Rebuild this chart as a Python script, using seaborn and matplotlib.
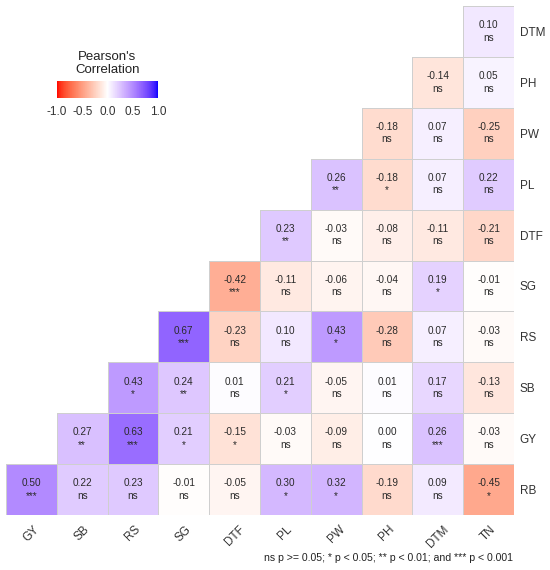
import numpy as np
import pandas as pd
import seaborn as sns
import matplotlib
matplotlib.use("Agg")
import matplotlib.pyplot as plt
from matplotlib.colors import ListedColormap

cols = ["GY", "SB", "RS", "SG", "DTF", "PL", "PW", "PH", "DTM", "TN"]
rows = ["DTM", "PH", "PW", "PL", "DTF", "SG", "RS", "SB", "GY", "RB"]

# filled part of each row, read from the right-hand end of the triangle
r_DTM = [0.10]
r_PH = [-0.14, 0.05]
r_PW = [-0.18, 0.07, -0.25]
r_PL = [0.26, -0.18, 0.07, 0.22]
r_DTF = [0.23, -0.03, -0.08, -0.11, -0.21]
r_SG = [-0.42, -0.11, -0.06, -0.04, 0.19, -0.01]
r_RS = [0.67, -0.23, 0.10, 0.43, -0.28, 0.07, -0.03]
r_SB = [0.43, 0.24, 0.01, 0.21, -0.05, 0.01, 0.17, -0.13]
r_GY = [0.27, 0.63, 0.21, -0.15, -0.03, -0.09, 0.00, 0.26, -0.03]
r_RB = [0.50, 0.22, 0.23, -0.01, -0.05, 0.30, 0.32, -0.19, 0.09, -0.45]

s_DTM = ["ns"]
s_PH = ["ns", "ns"]
s_PW = ["ns", "ns", "ns"]
s_PL = ["**", "*", "ns", "ns"]
s_DTF = ["**", "ns", "ns", "ns", "ns"]
s_SG = ["***", "ns", "ns", "ns", "*", "ns"]
s_RS = ["***", "ns", "ns", "*", "ns", "ns", "ns"]
s_SB = ["*", "**", "ns", "*", "ns", "ns", "ns", "ns"]
s_GY = ["**", "***", "*", "*", "ns", "ns", "ns", "***", "ns"]
s_RB = ["***", "ns", "ns", "ns", "ns", "*", "*", "ns", "ns", "*"]

caption = "ns p >= 0.05; * p < 0.05; ** p < 0.01; and *** p < 0.001"

r_rows = [r_DTM, r_PH, r_PW, r_PL, r_DTF, r_SG, r_RS, r_SB, r_GY, r_RB]
s_rows = [s_DTM, s_PH, s_PW, s_PL, s_DTF, s_SG, s_RS, s_SB, s_GY, s_RB]

n = len(cols)
mat = np.full((n, n), np.nan)
labels = np.full((n, n), "", dtype=object)
for i, (rv, sv) in enumerate(zip(r_rows, s_rows)):
    start = n - len(rv)
    for k, (v, s) in enumerate(zip(rv, sv)):
        mat[i, start + k] = v
        labels[i, start + k] = f"{v:.2f}\n{s}"

df = pd.DataFrame(mat, index=rows, columns=cols)


# red - white - blue gradient interpolated in CIELAB (like ggplot's gradient2)
def srgb_to_lab(c):
    c = np.asarray(c, float)
    lin = np.where(c <= 0.04045, c / 12.92, ((c + 0.055) / 1.055) ** 2.4)
    m = np.array([[0.4124, 0.3576, 0.1805],
                  [0.2126, 0.7152, 0.0722],
                  [0.0193, 0.1192, 0.9505]])
    xyz = m @ lin / np.array([0.95047, 1.0, 1.08883])
    f = np.where(xyz > 0.008856, np.cbrt(xyz), 7.787 * xyz + 16 / 116)
    return np.array([116 * f[1] - 16, 500 * (f[0] - f[1]), 200 * (f[1] - f[2])])


def lab_to_srgb(lab):
    L, a, b = lab
    fy = (L + 16) / 116
    fx = fy + a / 500
    fz = fy - b / 200
    f = np.array([fx, fy, fz])
    xyz = np.where(f ** 3 > 0.008856, f ** 3, (f - 16 / 116) / 7.787)
    xyz = xyz * np.array([0.95047, 1.0, 1.08883])
    m = np.array([[3.2406, -1.5372, -0.4986],
                  [-0.9689, 1.8758, 0.0415],
                  [0.0557, -0.2040, 1.0570]])
    lin = m @ xyz
    lin = np.clip(lin, 0, 1)
    c = np.where(lin <= 0.0031308, 12.92 * lin, 1.055 * lin ** (1 / 2.4) - 0.055)
    return np.clip(c, 0, 1)


lab_red = srgb_to_lab([1, 0, 0])
lab_white = srgb_to_lab([1, 1, 1])
lab_blue = srgb_to_lab([0, 0, 1])
ramp = []
for t in np.linspace(-1, 1, 256):
    if t < 0:
        lab = lab_white + (-t) * (lab_red - lab_white)
    else:
        lab = lab_white + t * (lab_blue - lab_white)
    ramp.append(lab_to_srgb(lab))
cmap = ListedColormap(ramp)

sns.set_theme(style="white")
plt.rcParams["font.family"] = ["Liberation Sans", "DejaVu Sans"]

fig = plt.figure(figsize=(5.5, 5.7), dpi=100)
ax = fig.add_axes([6 / 550, 1 - 515 / 570, 508 / 550, 509 / 570])
cax = fig.add_axes([57 / 550, 1 - 98 / 570, 101 / 550, 17 / 570])

sns.heatmap(df, mask=np.isnan(mat), cmap=cmap, vmin=-1, vmax=1,
            annot=labels, fmt="", linewidths=0.6, linecolor="#cfcfcf",
            annot_kws={"fontsize": 7.2, "color": "#2a2a2a", "linespacing": 1.3},
            cbar_ax=cax, cbar_kws={"orientation": "horizontal",
                                   "ticks": [-1, -0.5, 0, 0.5, 1]},
            ax=ax)

# no borders on the empty half of the matrix
mesh = ax.collections[0]
edge = np.array([[0.81, 0.81, 0.81, 1.0] if not np.isnan(v) else [0, 0, 0, 0]
                 for v in mat.ravel()])
mesh.set_edgecolor(edge)
mesh.set_linewidth(0.6)

ax.yaxis.tick_right()
ax.set_yticklabels(rows, rotation=0, fontsize=8.5, color="#333333")
ax.set_xticklabels(cols, rotation=45, ha="center", fontsize=8.5, color="#333333")
ax.tick_params(axis="y", length=0, pad=4)
ax.tick_params(axis="x", length=0, pad=6)
ax.set_xlabel("")
ax.set_ylabel("")

cbar = mesh.colorbar
cbar.outline.set_visible(False)
cbar.ax.set_xticklabels(["-1.0", "-0.5", "0.0", "0.5", "1.0"])
cbar.ax.tick_params(axis="x", direction="in", length=3, width=0.8, color="white",
                    labelcolor="#333333", labelsize=8.5, pad=6, top=True, bottom=True)
cbar.ax.set_title("Pearson's\nCorrelation", fontsize=9.5, color="#222222", pad=6,
                  linespacing=1.1)

fig.text(513 / 550, 1 - 558 / 570, caption, ha="right", va="center",
         fontsize=7.6, color="#222222")

fig.savefig("out.png", dpi=100)
